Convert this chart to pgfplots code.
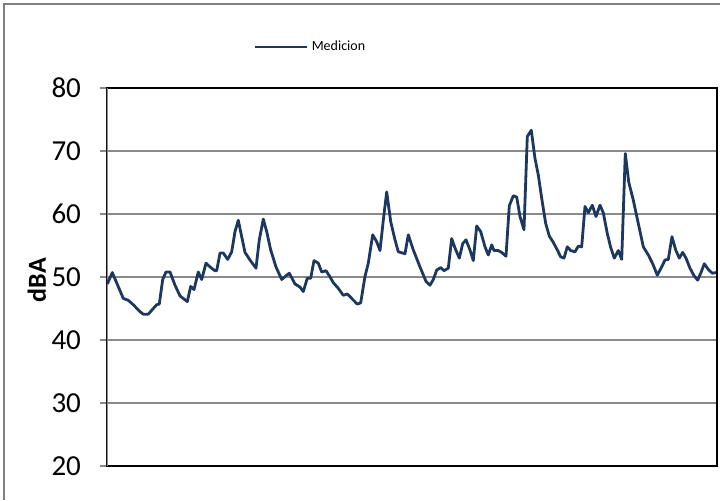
\documentclass[border=0pt]{standalone}
\usepackage{fontspec}
\setmainfont{Carlito}
\usepackage{pgfplots}
\pgfplotsset{compat=1.18}
\definecolor{navy}{HTML}{1C3860}
\definecolor{gridgray}{HTML}{8A8A8A}
\begin{document}
\begin{tikzpicture}
\useasboundingbox (0,0) rectangle (360pt,250pt);
\draw[gray, line width=0.6pt] (2pt,0pt) -- (2pt,248pt) -- (360pt,248pt);
\begin{axis}[
  at={(53.5pt,17pt)}, anchor=south west,
  scale only axis, width=305pt, height=189pt,
  xmin=107, xmax=717, ymin=20, ymax=80,
  xtick=\empty, ytick={20,30,...,80},
  ytick pos=left, tick align=outside, major tick length=3.5pt,
  ytick style={gridgray, line width=0.8pt},
  ymajorgrids, major grid style={gridgray, line width=1pt},
  axis line style={black, line width=1pt},
  /pgf/number format/assume math mode=true,
  yticklabel style={font=\fontsize{14.5}{16}\selectfont, anchor=east, xshift=-6pt},
  ylabel={dBA},
  ylabel style={font=\bfseries\fontsize{13}{15}\selectfont, at={(axis description cs:-0.115,0.492)}, anchor=center},
  legend style={draw=none, fill=none, at={(axis description cs:0.2393,1.108)}, anchor=west, inner sep=0pt, font=\fontsize{7}{8}\selectfont},
  legend cell align=left,
  legend image code/.code={\draw[#1, line width=1.2pt] (0pt,0pt) -- (26pt,0pt);},
]
\draw[gridgray, line width=1pt] (rel axis cs:0,0) -- (rel axis cs:0,1);
\addplot[navy, line width=1.4pt, line join=round] coordinates {
(107.3,48.9) (112.3,50.7) (123.3,46.6) (128.3,46.3) (133.3,45.6) (140,44.5) (143.3,44.1) (148.3,44.1)
(153.3,45.0) (156.7,45.6) (159.3,45.7) (162.7,49.6) (166,50.8) (170,50.8) (175,48.7) (180,47.0)
(187.3,46.1) (190.7,48.5) (194,48.0) (198.3,50.8) (201.7,49.6) (206,52.2) (210,51.6) (215,51.0)
(216.7,51.0) (220,53.8) (223.3,53.8) (227.7,52.8) (231.7,54.0) (235,57.2) (238.3,59.0) (241.7,56.4)
(245,53.9) (250,52.7) (256,51.4) (259.3,55.9) (263.3,59.2) (266.7,57.2) (270.7,54.3) (276,51.6)
(281.7,49.6) (286,50.2) (289.3,50.6) (295,48.9) (300,48.4) (303.3,47.7) (307.3,49.8) (310.7,49.8)
(314,52.6) (318.3,52.2) (321.7,50.8) (326,51.0) (329.3,50.2) (333.3,49.1) (338.3,48.2) (343.3,47.1)
(347.3,47.3) (351.7,46.6) (357.3,45.7) (360.7,45.9) (365,50.1) (368.3,52.2) (372.7,56.7) (376.7,55.6)
(380,54.2) (383.3,59.0) (386.7,63.5) (390.7,58.8) (395,55.9) (398.3,54.0) (405,53.7) (408.3,56.7)
(413.3,54.3) (420,51.6) (426,49.3) (430,48.7) (433.3,49.6) (436.7,51.1) (440.7,51.5) (444,51.0)
(448.3,51.4) (451.7,56.1) (455,54.6) (459.3,53.0) (462.7,55.3) (466,55.9) (470,54.3) (473.3,52.6)
(476.7,58.1) (480.7,57.2) (485,54.8) (488.3,53.5) (491.7,55.1) (494,54.2) (498.3,54.2) (501.7,53.9)
(506,53.3) (509.3,61.3) (513.3,62.9) (516.7,62.7) (520,59.6) (524,57.5) (527.3,72.3) (531.3,73.3)
(535,68.8) (538.3,66.2) (541.7,62.5) (545.7,58.5) (549.3,56.5) (553.3,55.5) (557.3,54.3) (560.7,53.2)
(564,53.0) (567.3,54.8) (570.7,54.2) (575,54.0) (578.3,54.9) (581.7,54.8) (585,61.2) (588.3,60.2)
(592.3,61.4) (596,59.6) (600,61.4) (603.3,60.2) (607.3,56.9) (610.7,54.7) (614.3,53.0) (618.3,54.2)
(621.7,52.8) (625.3,69.6) (628.7,65.1) (633.3,62.2) (638.3,58.5) (643.3,54.8) (648.3,53.5) (652.7,52.1)
(657.3,50.3) (661.7,51.6) (665,52.7) (668.3,52.8) (672,56.4) (675.7,54.3) (679.3,53.0) (682.7,53.9)
(686,53.0) (690,51.4) (694,50.2) (697.7,49.5) (701,50.7) (704.3,52.1) (708.3,51.2) (712.3,50.6)
(716,50.7)
};
\addlegendentry{Medicion}
\end{axis}
\end{tikzpicture}
\end{document}
